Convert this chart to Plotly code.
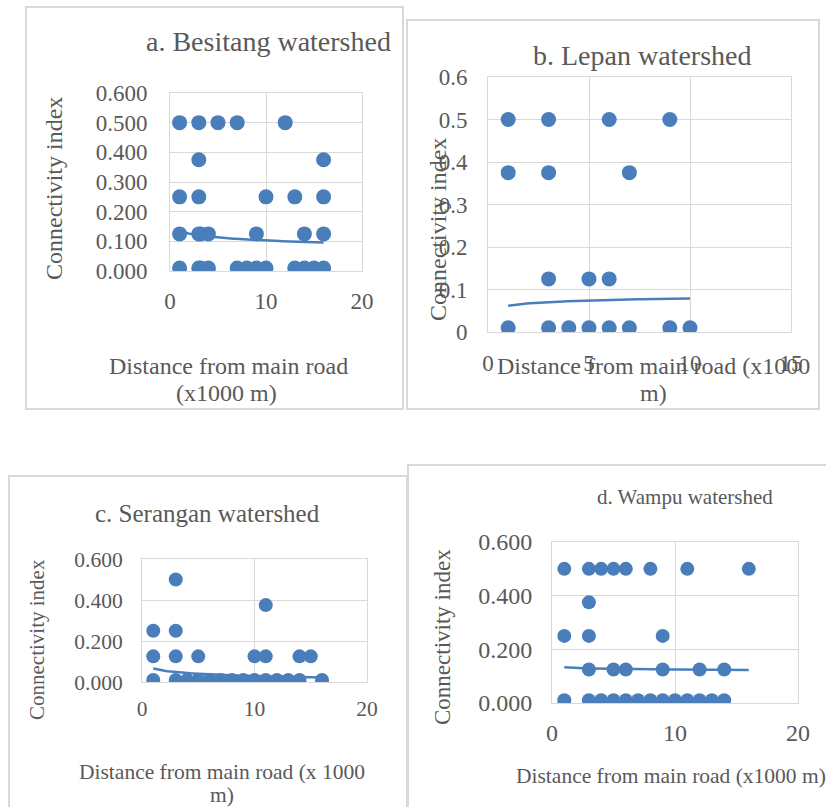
import numpy as np
import plotly.graph_objects as go

W, H = 826, 807
BLUE = "#4a7ebb"
TXT = "#595959"
GRID = "#d9d9d9"
FONT = "Liberation Serif"

# ---------------- data ----------------
# a. Besitang
a_x = [1, 3, 5, 7, 12,
       3, 16,
       1, 3, 10, 13, 16,
       1, 3, 3.2, 4, 9, 14, 16,
       1, 3, 3.2, 4, 7, 8, 9, 10, 13, 14, 15, 16]
a_y = [0.5, 0.5, 0.5, 0.5, 0.5,
       0.375, 0.375,
       0.25, 0.25, 0.25, 0.25, 0.25,
       0.125, 0.125, 0.125, 0.125, 0.125, 0.125, 0.125,
       0.01, 0.01, 0.01, 0.01, 0.01, 0.01, 0.01, 0.01, 0.01, 0.01, 0.01, 0.01]
a_trend = (-0.0144, 0.136)   # log trendline: slope, intercept
a_trend_x = (1, 16)

# b. Lepan
b_x = [1, 3, 6, 9,
       1, 3, 7,
       3, 5, 6,
       1, 3, 4, 5, 6, 7, 9, 10]
b_y = [0.5, 0.5, 0.5, 0.5,
       0.375, 0.375, 0.375,
       0.125, 0.125, 0.125,
       0.01, 0.01, 0.01, 0.01, 0.01, 0.01, 0.01, 0.01]
b_trend = (0.0074, 0.062)
b_trend_x = (1, 10)

# c. Serangan
c_x = [3,
       11,
       1, 3,
       1, 3, 5, 10, 11, 14, 15,
       1, 3, 4, 5, 6, 7, 8, 9, 10, 11, 12, 13, 14, 16]
c_y = [0.5,
       0.375,
       0.25, 0.25,
       0.125, 0.125, 0.125, 0.125, 0.125, 0.125, 0.125,
       0.01, 0.01, 0.01, 0.01, 0.01, 0.01, 0.01, 0.01, 0.01, 0.01, 0.01, 0.01, 0.01, 0.01]
c_trend = (-0.016, 0.066)
c_trend_x = (1, 16)

# d. Wampu
d_x = [1, 3, 4, 5, 6, 8, 11, 16,
       3,
       1, 3, 9,
       3, 5, 6, 9, 12, 14,
       1, 3, 4, 5, 6, 7, 8, 9, 10, 11, 12, 13, 14]
d_y = [0.5, 0.5, 0.5, 0.5, 0.5, 0.5, 0.5, 0.5,
       0.375,
       0.25, 0.25, 0.25,
       0.125, 0.125, 0.125, 0.125, 0.125, 0.125,
       0.01, 0.01, 0.01, 0.01, 0.01, 0.01, 0.01, 0.01, 0.01, 0.01, 0.01, 0.01, 0.01]
d_trend = (-0.0036, 0.133)
d_trend_x = (1, 16)

titles = ["a. Besitang watershed", "b. Lepan watershed",
          "c. Serangan watershed", "d. Wampu watershed"]
ytitle = "Connectivity index"

# ---------------- layout helpers ----------------
def px(x):
    return x / W

def py(y):
    return 1 - y / H

panels = [
    dict(x=a_x, y=a_y, tr=a_trend, trx=a_trend_x, area=(170, 362, 93, 271), xr=[0, 20], xd=10,
         yd=0.1, yf=".3f", tf=23, ys=17, xs=9, ms=15),
    dict(x=b_x, y=b_y, tr=b_trend, trx=b_trend_x, area=(488, 791, 77, 332), xr=[0, 15], xd=5,
         yd=0.1, yf="", tf=23, ys=15, xs=10, ms=15),
    dict(x=c_x, y=c_y, tr=c_trend, trx=c_trend_x, area=(142, 367, 559, 682), xr=[0, 20], xd=10,
         yd=0.2, yf=".3f", tf=21.5, ys=14, xs=7, ms=14),
    dict(x=d_x, y=d_y, tr=d_trend, trx=d_trend_x, area=(552, 798, 542, 703), xr=[0, 20], xd=10,
         yd=0.2, yf=".3f", tf=24, ys=14, xs=8, ms=14),
]

fig = go.Figure()
layout = dict(width=W, height=H, margin=dict(l=0, r=0, t=0, b=0, pad=0), autosize=False,
              paper_bgcolor="white", plot_bgcolor="white", showlegend=False,
              font=dict(family=FONT, color=TXT))

for i, p in enumerate(panels):
    n = "" if i == 0 else str(i + 1)
    xa, ya = "x" + n, "y" + n
    fig.add_trace(go.Scatter(x=p["x"], y=p["y"], mode="markers", xaxis=xa, yaxis=ya,
                             marker=dict(color=BLUE, size=p["ms"], line=dict(width=0))))
    tx = np.linspace(p["trx"][0], p["trx"][1], 60)
    ty = p["tr"][0] * np.log(tx) + p["tr"][1]
    fig.add_trace(go.Scatter(x=tx, y=ty, mode="lines", xaxis=xa, yaxis=ya,
                             line=dict(color=BLUE, width=2.5)))
    l, r, t, b = p["area"]
    layout["xaxis" + n] = dict(domain=[px(l), px(r)], range=p["xr"], dtick=p["xd"], tick0=0,
                               anchor=ya, showgrid=True, gridcolor=GRID, gridwidth=1,
                               zeroline=False, showline=True, linecolor=GRID, linewidth=1,
                               mirror=True, ticks="", ticklabelstandoff=p["xs"], automargin=False,
                               tickfont=dict(size=p["tf"], color=TXT, family=FONT))
    layout["yaxis" + n] = dict(domain=[py(b), py(t)], range=[0, 0.6], dtick=p["yd"], tick0=0,
                               anchor=xa, showgrid=True, gridcolor=GRID, gridwidth=1,
                               zeroline=False, showline=True, linecolor=GRID, linewidth=1,
                               mirror=True, ticks="", ticklabelstandoff=p["ys"], automargin=False,
                               tickformat=p["yf"],
                               tickfont=dict(size=p["tf"], color=TXT, family=FONT))

fig.update_layout(**layout)

# frames around each chart
frames = [(26, 403, 7, 409), (407, 819, 20, 409), (9, 407, 476, 815), (408, 830, 465, 815)]
for (x0, x1, y0, y1) in frames:
    fig.add_shape(type="rect", xref="paper", yref="paper", x0=px(x0), x1=px(x1),
                  y0=py(y1), y1=py(y0), line=dict(color=GRID, width=2), layer="below")

def ann(text, x, y, size, angle=0):
    fig.add_annotation(text=text, x=px(x), y=py(y), xref="paper", yref="paper",
                       xanchor="center", yanchor="middle", showarrow=False, textangle=angle,
                       font=dict(size=size, color=TXT, family=FONT))

# titles
ann(titles[0], 268, 42, 28)
ann(titles[1], 642, 55, 28)
ann(titles[2], 207, 513, 25)
ann(titles[3], 685, 497, 21)

# y titles
ann(ytitle, 54, 189, 24, -90)
ann(ytitle, 438, 230, 24, -90)
ann(ytitle, 37, 640, 21, -90)
ann(ytitle, 442, 637, 23, -90)

# x titles
ann("Distance from main road", 228, 366, 24)
ann("(x1000 m)", 227, 393, 24)
ann("Distance from main road (x1000", 653, 366, 24)
ann("m)", 653, 393, 24)
ann("Distance from main road (x 1000", 222, 772, 21.5)
ann("m)", 222, 795, 21.5)
ann("Distance from main road (x1000 m)", 671, 776, 21.5)

fig.write_html("out.html")
